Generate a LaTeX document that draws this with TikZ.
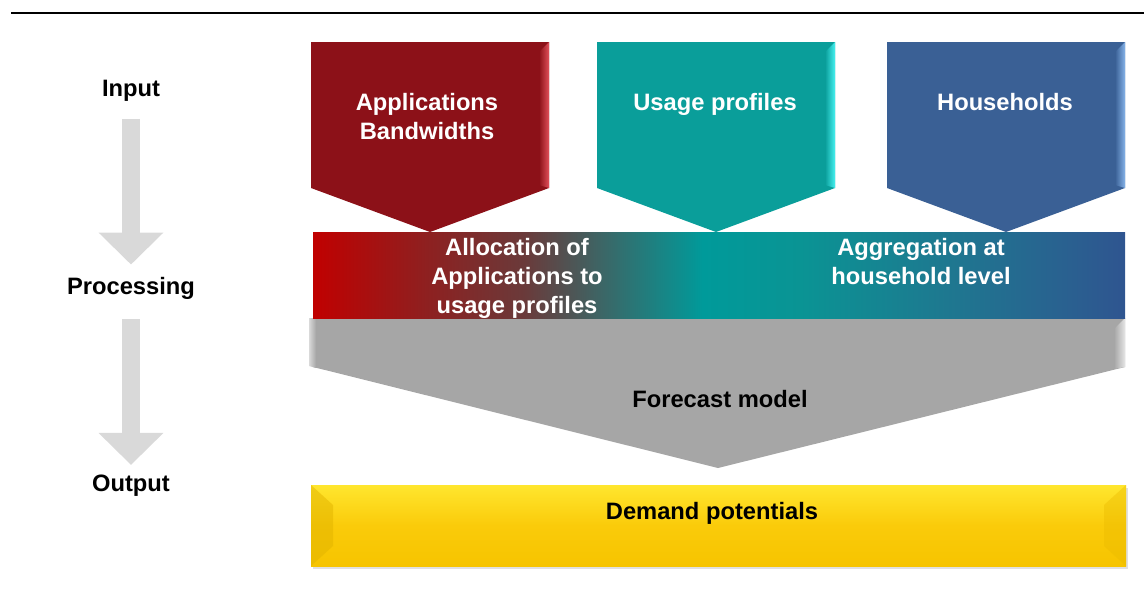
\documentclass[tikz,border=0pt]{standalone}
\usepackage{fontspec}
\setmainfont{Liberation Sans}
\usetikzlibrary{arrows.meta}

\definecolor{appred}{HTML}{8C1118}
\definecolor{applight}{HTML}{E0505A}
\definecolor{useteal}{HTML}{0A9E9A}
\definecolor{uselight}{HTML}{45F0F0}
\definecolor{houseblue}{HTML}{3A6095}
\definecolor{houselight}{HTML}{85B2E8}
\definecolor{modelgray}{HTML}{A6A6A6}
\definecolor{stepgray}{HTML}{D9D9D9}
\definecolor{demandtop}{HTML}{FFE62E}
\definecolor{demandmid}{HTML}{FACB0A}
\definecolor{demandbot}{HTML}{F6C400}
\definecolor{bandA}{HTML}{C00000}
\definecolor{bandB}{HTML}{8E2020}
\definecolor{bandC}{HTML}{6A3A3A}
\definecolor{bandD}{HTML}{3A6868}
\definecolor{bandE}{HTML}{009A9A}
\definecolor{bandF}{HTML}{0A9494}
\definecolor{bandG}{HTML}{1E7890}
\definecolor{bandH}{HTML}{2F5590}

\pgfdeclarehorizontalshading{bandshade}{100bp}{%
  color(0bp)=(bandA);
  color(25bp)=(bandA);
  color(32bp)=(bandB);
  color(38bp)=(bandC);
  color(43bp)=(bandD);
  color(49bp)=(bandE);
  color(55bp)=(bandF);
  color(64bp)=(bandG);
  color(75bp)=(bandH);
  color(100bp)=(bandH)}

% input arrow: left x, fill colour, bevel colour
\newcommand{\inshape}[3]{%
  \fill[#2] (#1,42) -- ++(238,0) -- ++(0,146) -- ++(-119,44) -- ++(-119,-44) -- cycle;
  \shade[left color=#2, right color=#3] (#1+228,52) -- (#1+238,42) -- (#1+238,188) -- (#1+228,185) -- cycle;
}

\tikzset{
  lbl/.style={font=\fontsize{13.5}{16.5}\selectfont\bfseries, align=center, inner sep=0pt},
  whitetxt/.style={lbl, text=white},
  flowarrow/.style={stepgray, line width=0.38cm, -{Triangle[length=0.64cm, width=1.26cm]}}
}

\begin{document}
\begin{tikzpicture}[x=0.02cm, y=-0.02cm]
	\useasboundingbox (0,0) rectangle (1144,606);
	
	%%%%% header rule %%%%%
	\draw[line width=1.1pt] (11,13) -- (1144,13);
	
	%%%%% stages on the left %%%%%
	\node[lbl] (input) at (131,91) {Input};
	\node[lbl] (processing) at (131,288) {Processing};
	\node[lbl] (output) at (131,486) {Output};
	
	\draw[flowarrow, shorten <=0.34cm, shorten >=0.24cm] (input) -- (processing);
	\draw[flowarrow, shorten <=0.4cm, shorten >=0.2cm] (processing) -- (output);
	
	%%%%% forecast model %%%%%
	\fill[modelgray] (313,318) -- (1125,318) -- (1125,367) -- (718,468) -- (313,367) -- cycle;
	\shade[left color=modelgray, right color=white!90!black] (1114,329) -- (1125,318) -- (1125,367) -- (1114,369) -- cycle;
	\shade[left color=white!85!black, right color=modelgray] (309,318) -- (316,318) -- (316,368) -- (309,366) -- cycle;
	\node[lbl] (forecast) at (720,399) {Forecast model};
	
	%%%%% processing band %%%%%
	\shade[shading=bandshade] (313,232) rectangle (1125,318);
	\node[whitetxt] (alloc) at (517,278.5) {Allocation of\\Applications to\\usage profiles};
	\node[whitetxt] (aggreg) at (921,261.5) {Aggregation at\\household level};
	
	%%%%% inputs %%%%%
	\inshape{311}{appred}{applight}
	\inshape{597}{useteal}{uselight}
	\inshape{887}{houseblue}{houselight}
	\node[whitetxt] (apps) at (427,116.5) {Applications\\Bandwidths};
	\node[whitetxt] (usage) at (715,104) {Usage profiles};
	\node[whitetxt] (households) at (1005,102) {Households};
	
	%%%%% output %%%%%
	\fill[black!12] (313,488) rectangle (1128,569);
	\shade[top color=demandtop, bottom color=demandbot, middle color=demandmid] (311,485) rectangle (1126,566);
	\fill[demandbot!92!black, opacity=0.5] (311,485) -- (333,505) -- (333,546) -- (311,566) -- cycle;
	\fill[demandbot!95!black, opacity=0.4] (1126,485) -- (1104,505) -- (1104,546) -- (1126,566) -- cycle;
	\node[lbl] (demand) at (712,513) {Demand potentials};
	
\end{tikzpicture}
\end{document}
